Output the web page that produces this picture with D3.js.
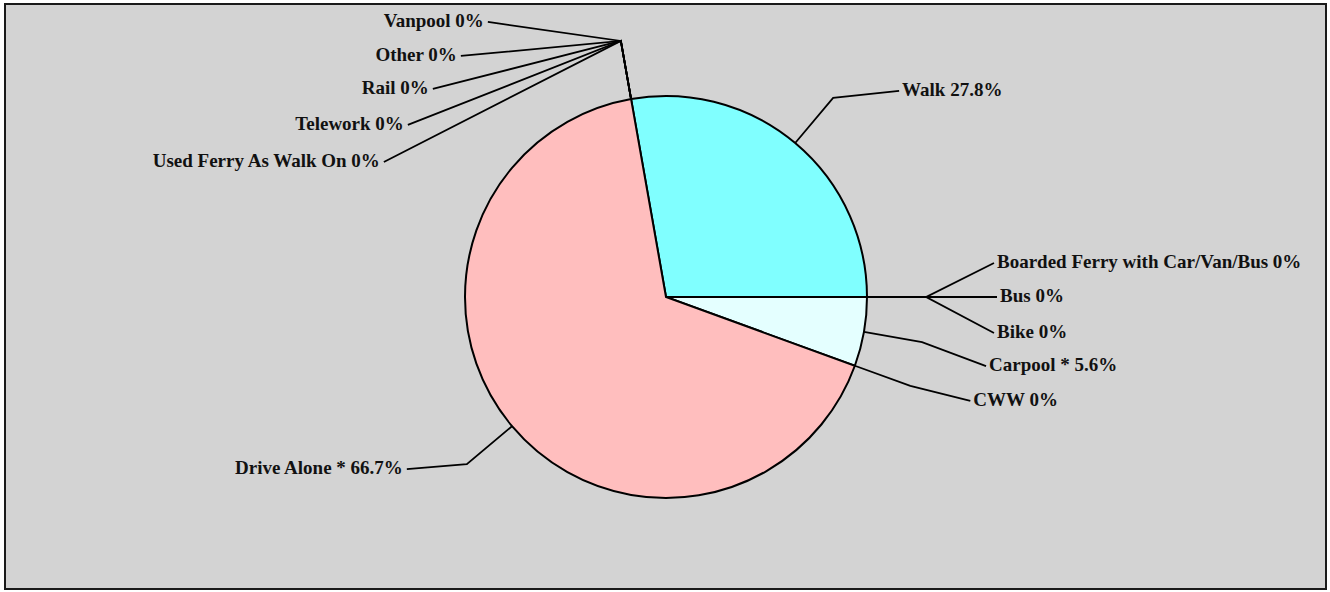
<!DOCTYPE html>
<html>
<head>
<meta charset="utf-8">
<script src="https://cdn.jsdelivr.net/npm/d3@7"></script>
<style>
  html, body { margin: 0; padding: 0; background: #ffffff; }
  svg { display: block; }
  text { font-family: "Liberation Serif", "Times New Roman", serif; font-weight: bold; font-size: 19px; fill: #111; }
</style>
</head>
<body>
<svg id="chart" width="1330" height="592"></svg>
<script>
// ---- data ----
const categories = ["Walk", "Boarded Ferry with Car/Van/Bus", "Bus", "Bike", "Carpool *", "CWW",
                    "Drive Alone *", "Used Ferry As Walk On", "Telework", "Rail", "Other", "Vanpool"];
const counts = [5, 0, 0, 0, 1, 0, 12, 0, 0, 0, 0, 0];
const percentLabels = ["27.8%", "0%", "0%", "0%", "5.6%", "0%", "66.7%", "0%", "0%", "0%", "0%", "0%"];
const sliceColors = ["#80ffff", "#d3d3d3", "#d3d3d3", "#d3d3d3", "#e4ffff", "#d3d3d3",
                     "#ffbebe", "#d3d3d3", "#d3d3d3", "#d3d3d3", "#d3d3d3", "#d3d3d3"];

// ---- layout (label placement offsets from the leader elbow) ----
const labelOffsets = [
  [66, -7], [68, -34], [71, 0], [68, 36], [64, 24], [60, 15],
  [-60, 5], [-237, 121], [-213, 84], [-188, 48], [-160, 15], [-133, -19]
];

const W = 1330, H = 592;
const cx = 666, cy = 297, R = 201, elbowR = 260;

const svg = d3.select("#chart");
svg.append("rect").attr("x", 5).attr("y", 4).attr("width", 1321).attr("height", 585)
   .attr("fill", "#d3d3d3").attr("stroke", "#1a1a1a").attr("stroke-width", 2);

const data = categories.map((c, i) => ({ name: c, value: counts[i], pct: percentLabels[i], color: sliceColors[i], off: labelOffsets[i] }));

const pie = d3.pie().value(d => d.value).sort(null)
  .startAngle(-10 * Math.PI / 180).endAngle(350 * Math.PI / 180);
const arcs = pie(data);
const arc = d3.arc().innerRadius(0).outerRadius(R);

const g = svg.append("g").attr("transform", `translate(${cx},${cy})`);

g.selectAll("path.slice").data(arcs.filter(a => a.value > 0)).join("path")
  .attr("class", "slice")
  .attr("d", arc)
  .attr("fill", d => d.data.color)
  .attr("stroke", "#000").attr("stroke-width", 2);

function polar(r, a) { return [r * Math.sin(a), -r * Math.cos(a)]; }

const lines = g.append("g");
arcs.forEach(a => {
  const mid = (a.startAngle + a.endAngle) / 2;
  const p0 = polar(R, mid);
  const p1 = polar(elbowR, mid);
  const p2 = [p1[0] + a.data.off[0], p1[1] + a.data.off[1]];
  lines.append("polyline")
    .attr("points", [p0, p1, p2].map(p => p.join(",")).join(" "))
    .attr("fill", "none").attr("stroke", "#000").attr("stroke-width", 1.8);
  const right = p2[0] > 0;
  lines.append("text")
    .attr("x", p2[0] + (right ? 3 : -4))
    .attr("y", p2[1] + 5)
    .attr("text-anchor", right ? "start" : "end")
    .text(`${a.data.name} ${a.data.pct}`);
});
</script>
</body>
</html>
